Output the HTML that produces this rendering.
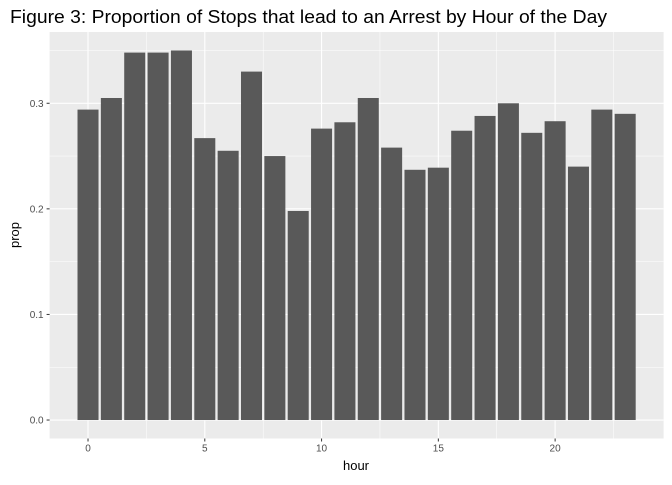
<!DOCTYPE html>
<html><head><meta charset="utf-8"><style>
body{margin:0;background:#fff;}
svg text{font-family:"Liberation Sans",sans-serif;}
</style></head><body>
<svg id="chart" width="672" height="480" xmlns="http://www.w3.org/2000/svg">
<text x="10" y="23" font-size="18" textLength="597" lengthAdjust="spacingAndGlyphs" fill="#000">Figure 3: Proportion of Stops that lead to an Arrest by Hour of the Day</text>
<rect x="49.6" y="32" width="614" height="406.5" fill="#ebebeb"/>
<g id="grid"></g><g id="bars"></g><g id="axes"></g>
<text x="356" y="470" font-size="13" text-anchor="middle">hour</text>
<text transform="translate(19,235) rotate(-90)" font-size="13" text-anchor="middle">prop</text>
</svg>
<script>
const hours=[0,1,2,3,4,5,6,7,8,9,10,11,12,13,14,15,16,17,18,19,20,21,22,23];
const props=[0.294,0.305,0.348,0.348,0.350,0.267,0.255,0.330,0.250,0.198,0.276,0.282,0.305,0.258,0.237,0.239,0.274,0.288,0.300,0.272,0.283,0.240,0.294,0.290];
const xTicks=[0,5,10,15,20];
const yTicks=[0,0.1,0.2,0.3];
const yTickLabels=["0.0","0.1","0.2","0.3"];
const NS="http://www.w3.org/2000/svg";
const L=49.6,R=663.6,T=32,B=438.5;
const xmin=-0.45-1.195,xmax=23.45+1.195;
const ymax=Math.max(...props),ypad=ymax*0.05;
const X=v=>L+(v-xmin)/(xmax-xmin)*(R-L);
const Y=v=>B-(v+ypad)/(ymax+2*ypad)*(B-T);
function mk(tag,attrs,parent){const e=document.createElementNS(NS,tag);for(const k in attrs)e.setAttribute(k,attrs[k]);document.getElementById(parent).appendChild(e);return e;}
for(let i=0;i<yTicks.length;i++){
 const y=Y(yTicks[i]);
 const g=mk('line',{x1:L,x2:R,y1:y,y2:y,stroke:'#fff','stroke-width':1.1},'grid');
 
 
 const ym=Y(yTicks[i]+0.05);
 if(ym>T){const m=mk('line',{x1:L,x2:R,y1:ym,y2:ym,stroke:'#fff','stroke-width':0.5},'grid');
 
 }
 const t=mk('text',{x:L-6,y:y+3.5,'font-size':10,fill:'#4d4d4d','text-anchor':'end'},'axes');
 t.textContent=yTickLabels[i];
 
 
 mk('line',{x1:L-3,x2:L,y1:y,y2:y,stroke:'#333'},'axes');
}
for(const v of xTicks){
 const x=X(v);
 const g=mk('line',{x1:x,x2:x,y1:T,y2:B,stroke:'#fff','stroke-width':1.1},'grid');
 
 
 const xm=X(v+2.5);
 if(xm<R){const m=mk('line',{x1:xm,x2:xm,y1:T,y2:B,stroke:'#fff','stroke-width':0.5},'grid');
 
 }
 const t=mk('text',{x:x,y:B+13,'font-size':10,fill:'#4d4d4d','text-anchor':'middle'},'axes');
 t.textContent=v;
 
 
 mk('line',{x1:x,x2:x,y1:B,y2:B+3,stroke:'#333'},'axes');
}
for(let i=0;i<hours.length;i++){
 const x0=X(hours[i]-0.45),x1=X(hours[i]+0.45);
 const b=mk('rect',{x:x0,y:Y(props[i]),width:x1-x0,height:Y(0)-Y(props[i]),fill:'#595959'},'bars');
 
 
}
</script>
</body></html>
